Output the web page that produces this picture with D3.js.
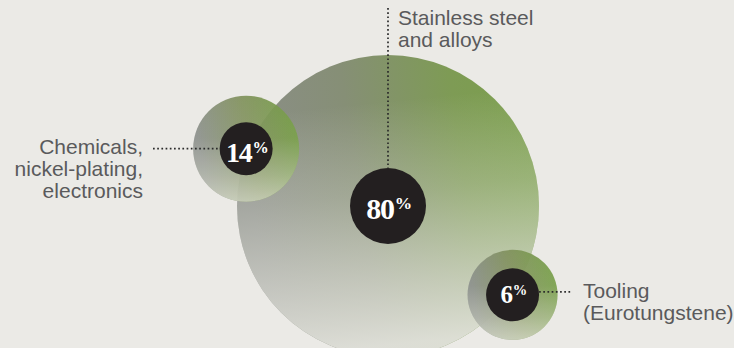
<!DOCTYPE html>
<html>
<head>
<meta charset="utf-8">
<script src="https://cdn.jsdelivr.net/npm/d3@7/dist/d3.min.js"></script>
<style>
  html, body { margin: 0; padding: 0; background: #ebeae6; }
  svg { display: block; }
</style>
</head>
<body>
<script>
// ---- data ----
const categories = ["Stainless steel and alloys", "Chemicals, nickel-plating, electronics", "Tooling (Eurotungstene)"];
const labelLines = [["Stainless steel", "and alloys"], ["Chemicals,", "nickel-plating,", "electronics"], ["Tooling", "(Eurotungstene)"]];
const values = [80, 14, 6];
// ---- layout ----
const placementAngles = [null, 202, 35.5]; // degrees around the main bubble
const labelSides = ["top", "left", "right"];

const W = 734, H = 348;
const svg = d3.select("body").append("svg").attr("width", W).attr("height", H);
svg.append("rect").attr("width", W).attr("height", H).attr("fill", "#ebeae6");

const rScale = d3.scaleLinear().domain([6, 14, 80]).range([45, 53, 151]);
const innerR = d3.scaleThreshold().domain([50]).range([26.5, 38]);
const fontScale = d3.scaleLinear().domain([6, 14, 80]).range([25, 28, 30]);
const cx0 = 388, cy0 = 206;

const nodes = values.map((v, i) => {
  let x = cx0, y = cy0;
  if (placementAngles[i] !== null) {
    const a = placementAngles[i] * Math.PI / 180;
    const d = rScale(values[0]) + 2;
    x = cx0 + d * Math.cos(a);
    y = cy0 + d * Math.sin(a);
  }
  return { v, i, x, y, r: rScale(v), ri: innerR(v), cat: categories[i], lines: labelLines[i], side: labelSides[i] };
});

const defs = svg.append("defs");
const hg = defs.append("linearGradient").attr("id", "hgrad").attr("x1", 0).attr("y1", 0.15).attr("x2", 1).attr("y2", 0);
[[0, "#8b8e88"], [0.35, "#868f76"], [0.7, "#7e9b55"], [1, "#7aa04a"]].forEach(([o, c]) =>
  hg.append("stop").attr("offset", o).attr("stop-color", c));
const vg = defs.append("linearGradient").attr("id", "vgrad").attr("x1", 0).attr("y1", 0).attr("x2", 0.1).attr("y2", 1);
[[0, "#e6e6e0", 0], [0.2, "#e6e6e0", 0.0], [0.5, "#e2e3dc", 0.3], [0.8, "#e0e0da", 0.7], [1, "#e4e4de", 0.92]].forEach(([o, c, op]) =>
  vg.append("stop").attr("offset", o).attr("stop-color", c).attr("stop-opacity", op));

const sg = defs.append("linearGradient").attr("id", "sgrad").attr("x1", 0).attr("y1", 0.2).attr("x2", 1).attr("y2", 0);
[[0, "#8a8e8a"], [0.45, "#82925f"], [1, "#74a042"]].forEach(([o, c]) =>
  sg.append("stop").attr("offset", o).attr("stop-color", c));
const svg2 = defs.append("linearGradient").attr("id", "svgrad").attr("x1", 0).attr("y1", 0).attr("x2", 0).attr("y2", 1);
[[0, "#e0e2d8", 0], [0.4, "#e0e2d8", 0.05], [0.75, "#dfe3d2", 0.4], [1, "#dfe3d2", 0.72]].forEach(([o, c, op]) =>
  svg2.append("stop").attr("offset", o).attr("stop-color", c).attr("stop-opacity", op));

// main bubble
const big = nodes[0];
svg.append("circle").attr("cx", big.x).attr("cy", big.y).attr("r", big.r).attr("fill", "url(#hgrad)");
svg.append("circle").attr("cx", big.x).attr("cy", big.y).attr("r", big.r).attr("fill", "url(#vgrad)");

// leader lines
const dot = { stroke: "#2b2b2b", "stroke-width": 1.7, "stroke-dasharray": "1.7,2.5" };
function leader(x1, y1, x2, y2) {
  const l = svg.append("line").attr("x1", x1).attr("y1", y1).attr("x2", x2).attr("y2", y2);
  Object.entries(dot).forEach(([k, v]) => l.attr(k, v));
}
leader(big.x, 8, big.x, big.y - big.ri);

// small bubbles
nodes.slice(1).forEach(n => {
  const g = svg.append("g").attr("opacity", 0.93);
  g.append("circle").attr("cx", n.x).attr("cy", n.y).attr("r", n.r).attr("fill", "url(#sgrad)");
  g.append("circle").attr("cx", n.x).attr("cy", n.y).attr("r", n.r).attr("fill", "url(#svgrad)");
});

// leader lines for small
nodes.slice(1).forEach(n => {
  if (n.side === "left") leader(153, n.y, n.x - n.ri, n.y);
  else leader(n.x + n.ri, n.y - 3, 571, n.y - 3);
});

// inner dark circles + value text
nodes.forEach(n => {
  svg.append("circle").attr("cx", n.x).attr("cy", n.y).attr("r", n.ri).attr("fill", "#231f20");
  const fs = fontScale(n.v);
  const pfs = fs * 0.58;
  const baseOff = n.v >= 50 ? 13 : (n.v >= 10 ? 13 : 8);
  const t = svg.append("text").attr("x", n.x + 1).attr("y", n.y + baseOff)
    .attr("text-anchor", "middle").attr("fill", "#fff")
    .attr("font-family", "'Liberation Serif', 'Times New Roman', serif").attr("font-weight", "bold")
    .attr("font-size", fs);
  t.append("tspan").attr("letter-spacing", "-1.2px").text(n.v);
  t.append("tspan").attr("font-size", pfs).attr("letter-spacing", "-0.5px")
    .attr("dy", -(0.68 * fs - 0.68 * pfs) - 1).attr("dx", 1).text("%");
});

// labels
const lf = "'Liberation Sans', Arial, Helvetica, sans-serif";
nodes.forEach(n => {
  let x, y, anchor;
  if (n.side === "top") { x = n.x + 10; y = 25; anchor = "start"; }
  else if (n.side === "left") { x = 143; y = 154; anchor = "end"; }
  else { x = 583; y = 298; anchor = "start"; }
  const t = svg.append("text").attr("x", x).attr("y", y).attr("text-anchor", anchor)
    .attr("fill", "#5a5a5c").attr("font-family", lf).attr("font-size", 21);
  n.lines.forEach((ln, k) => t.append("tspan").attr("x", x).attr("dy", k ? 22 : 0).text(ln));
});
</script>
</body>
</html>
